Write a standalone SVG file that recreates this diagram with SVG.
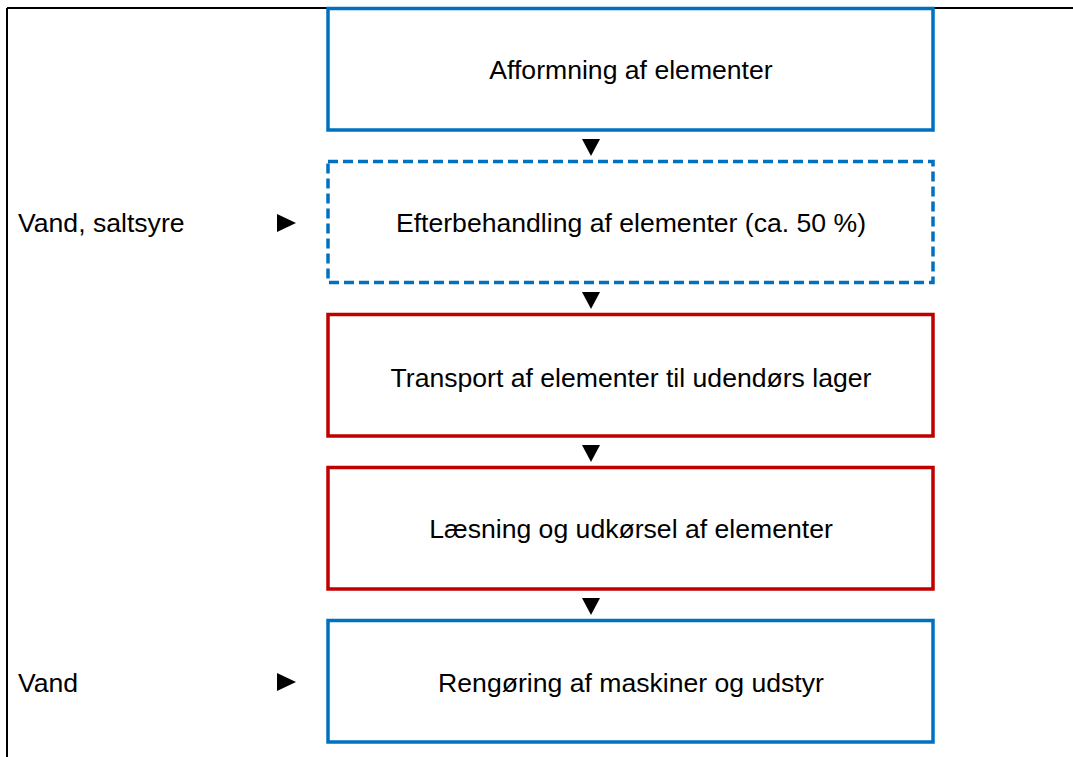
<svg xmlns="http://www.w3.org/2000/svg" width="1073" height="757" viewBox="0 0 1073 757">
<style>
text{font-family:"Liberation Sans",Arial,sans-serif;font-size:26.6px;fill:#000}
.c{text-anchor:middle}
.box{fill:#fff;stroke-width:3.5}
.blue{stroke:#0070C0}
.red{stroke:#C00000}
.dash{stroke-dasharray:10 5}
.arr{fill:#000}
</style>
<rect width="1073" height="757" fill="#fff"/>
<g id="frame">
<line x1="7" y1="8" x2="1073" y2="8" stroke="#000" stroke-width="2"/>
<line x1="7" y1="8" x2="7" y2="757" stroke="#000" stroke-width="2"/>
</g>
<g id="connectors">
<polygon class="arr" points="582,139 600,139 591,156"/>
<polygon class="arr" points="582,292 600,292 591,309"/>
<polygon class="arr" points="582,445 600,445 591,462"/>
<polygon class="arr" points="582,598 600,598 591,615"/>
<polygon class="arr" points="277,214 277,232 296,223"/>
<polygon class="arr" points="277,673 277,691 296,682"/>
</g>
<g id="n1">
<rect class="box blue" x="328" y="8.5" width="605" height="121.5"/>
<text class="c" x="631" y="79">Afformning af elementer</text>
</g>
<g id="n2">
<rect class="box blue dash" x="328" y="161.5" width="605" height="121"/>
<text class="c" x="631" y="232">Efterbehandling af elementer (ca. 50 %)</text>
</g>
<g id="n3">
<rect class="box red" x="328" y="314.5" width="605" height="121.5"/>
<text class="c" x="631" y="387">Transport af elementer til udendørs lager</text>
</g>
<g id="n4">
<rect class="box red" x="328" y="467.5" width="605" height="121.5"/>
<text class="c" x="631" y="538">Læsning og udkørsel af elementer</text>
</g>
<g id="n5">
<rect class="box blue" x="328" y="620.5" width="605" height="121.5"/>
<text class="c" x="631" y="692">Rengøring af maskiner og udstyr</text>
</g>
<g id="in1">
<text x="18" y="232">Vand, saltsyre</text>
</g>
<g id="in2">
<text x="18" y="692">Vand</text>
</g>
</svg>
